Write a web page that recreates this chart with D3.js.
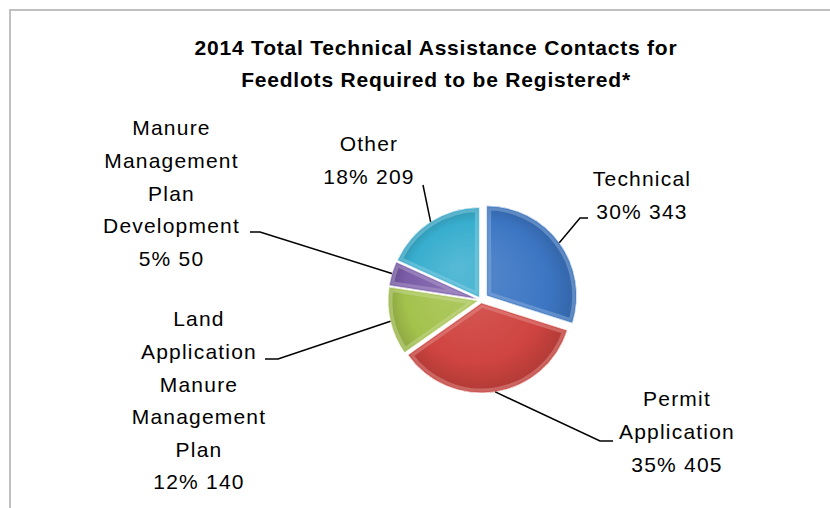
<!DOCTYPE html>
<html>
<head>
<meta charset="utf-8">
<script src="https://cdn.jsdelivr.net/npm/d3@7/dist/d3.min.js"></script>
<style>
  html, body { margin: 0; padding: 0; background: #fff; }
  svg { display: block; }
</style>
</head>
<body>
<svg id="chart" width="830" height="508"></svg>
<script>
// ---- Data ----
const titleLines = ["2014 Total Technical Assistance Contacts for", "Feedlots Required to be Registered*"];
const categories = ["Technical", "Permit Application", "Land Application Manure Management Plan", "Manure Management Plan Development", "Other"];
const nameLines = [["Technical"], ["Permit", "Application"], ["Land", "Application", "Manure", "Management", "Plan"], ["Manure", "Management", "Plan", "Development"], ["Other"]];
const values = [343, 405, 140, 50, 209];
const percentLabels = ["30%", "35%", "12%", "5%", "18%"];
const colors = ["#3c76c3", "#cf4440", "#a3c24c", "#7a5ca8", "#38aece"];

// ---- Layout (positions / styles only) ----
const W = 830, H = 508;
const cx = 481, cy = 300, R = 90;
const explode = [7, 3, 3, 3, 3];
const lineH = 32.6;
// label block: center x, first line center y; leader: text-side end (tx,ty), elbow x (ex) or null
const labelLayout = [
  { x: 642, y: 179, tx: 588, ty: 218, ex: 580 },
  { x: 677, y: 399, tx: 613, ty: 441, ex: 600 },
  { x: 199, y: 319, tx: 265, ty: 359, ex: 278 },
  { x: 171.5, y: 128, tx: 250, ty: 232, ex: 260 },
  { x: 369, y: 144, tx: 423, ty: 185, ex: null }
];

const svg = d3.select("#chart");
const defs = svg.append("defs");

// chart border (extends beyond right/bottom of view)
svg.append("rect").attr("x", 10).attr("y", 10).attr("width", 840).attr("height", 520)
  .attr("fill", "#fff").attr("stroke", "#c0c0c0").attr("stroke-width", 2);

// title
const title = svg.append("text").attr("text-anchor", "middle")
  .attr("font-family", "'Liberation Sans', Arial, sans-serif")
  .attr("font-weight", "bold").attr("font-size", 21)
  .attr("letter-spacing", "0.8px").attr("fill", "#000");
titleLines.forEach((t, i) => {
  title.append("tspan").attr("x", 436).attr("y", 48 + i * 32).attr("dy", "0.35em").text(t);
});

// pie
const pie = d3.pie().sort(null).value(d => d)
  .startAngle(0).endAngle(2 * Math.PI);
const arcs = pie(values);
const arc = d3.arc().innerRadius(0).outerRadius(R);

const g = svg.append("g").attr("transform", `translate(${cx},${cy})`);

function lighten(c, k) { return d3.interpolateRgb(c, "#ffffff")(k); }
function darken(c, k) { return d3.interpolateRgb(c, "#000000")(k); }

arcs.forEach((a, i) => {
  const mid = (a.startAngle + a.endAngle) / 2;
  const ox = explode[i] * Math.sin(mid), oy = -explode[i] * Math.cos(mid);
  a.ox = ox; a.oy = oy; a.mid = mid;

  const grad = defs.append("radialGradient").attr("id", "rg" + i)
    .attr("gradientUnits", "userSpaceOnUse")
    .attr("cx", 0).attr("cy", 0).attr("r", R)
    .attr("fx", -R * 0.25).attr("fy", -R * 0.35);
  grad.append("stop").attr("offset", "0%").attr("stop-color", lighten(colors[i], 0.15));
  grad.append("stop").attr("offset", "75%").attr("stop-color", colors[i]);
  grad.append("stop").attr("offset", "100%").attr("stop-color", darken(colors[i], 0.15));

  defs.append("clipPath").attr("id", "cp" + i)
    .append("path").attr("d", arc(a));

  const sg = g.append("g").attr("transform", `translate(${ox},${oy})`);
  sg.append("path").attr("d", arc(a)).attr("fill", `url(#rg${i})`);
  // bevel highlight rim
  sg.append("path").attr("d", arc(a)).attr("fill", "none")
    .attr("stroke", lighten(colors[i], 0.4)).attr("stroke-opacity", 0.5)
    .attr("stroke-width", 9).attr("stroke-linejoin", "round")
    .attr("clip-path", `url(#cp${i})`);
  sg.append("path").attr("d", arc(a)).attr("fill", "none")
    .attr("stroke", colors[i]).attr("stroke-opacity", 0.6)
    .attr("stroke-width", 3).attr("stroke-linejoin", "round")
    .attr("clip-path", `url(#cp${i})`);
  sg.append("path").attr("d", arc(a)).attr("fill", "none")
    .attr("stroke", "#ffffff").attr("stroke-opacity", 0.7).attr("stroke-width", 1);
});

// leader lines and labels
const labelFont = "'Liberation Sans', Arial, sans-serif";
arcs.forEach((a, i) => {
  const L = labelLayout[i];
  const px = cx + a.ox + R * Math.sin(a.mid);
  const py = cy + a.oy - R * Math.cos(a.mid);
  const pts = [[L.tx, L.ty]];
  if (L.ex !== null) pts.push([L.ex, L.ty]);
  pts.push([px, py]);
  svg.append("path").attr("d", d3.line()(pts))
    .attr("fill", "none").attr("stroke", "#000").attr("stroke-width", 1.5);

  const lines = nameLines[i].concat([percentLabels[i] + " " + values[i]]);
  const t = svg.append("text").attr("text-anchor", "middle")
    .attr("font-family", labelFont).attr("font-size", 21)
    .attr("letter-spacing", "1.2px").attr("fill", "#000");
  lines.forEach((s, j) => {
    t.append("tspan").attr("x", L.x).attr("y", L.y + j * lineH).attr("dy", "0.35em").text(s);
  });
});
</script>
</body>
</html>
